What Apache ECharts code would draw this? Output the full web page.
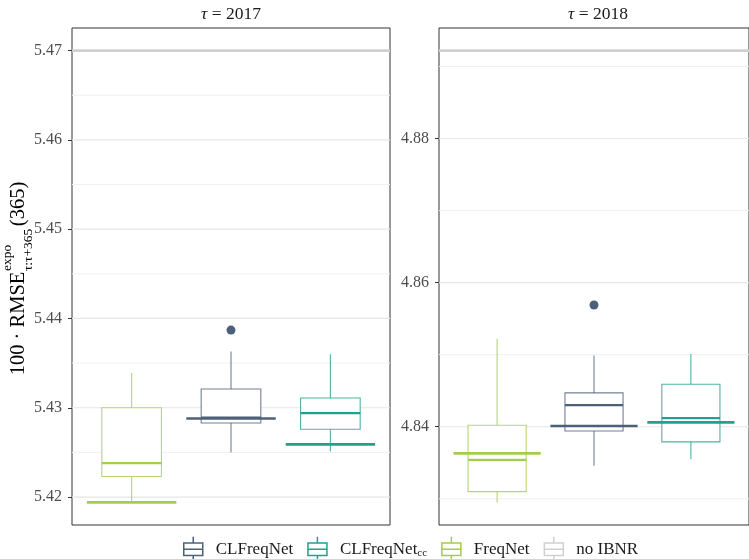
<!DOCTYPE html>
<html>
<head>
<meta charset="utf-8">
<script src="https://cdn.jsdelivr.net/npm/echarts@6/dist/echarts.min.js"></script>
<style>
  html, body { margin: 0; padding: 0; background: #ffffff; }
  #chart { width: 749px; height: 559px; }
</style>
</head>
<body>
<div id="chart"></div>
<script>
// Forecast-horizon panels
const panelYears = ['2017', '2018'];

// Models along the x axis (positions 1, 2, 3)
const models = ['FreqNet', 'CLFreqNet', 'CLFreqNet_cc'];

// Box statistics per panel: [lower whisker, Q1, median, Q3, upper whisker]
const freqNetBox     = [[5.4194, 5.4223, 5.4238, 5.4300, 5.4339], [4.8295, 4.8310, 4.8354, 4.8402, 4.8522]];
const clFreqNetBox   = [[5.4250, 5.4283, 5.4289, 5.4321, 5.4363], [4.8346, 4.8394, 4.8430, 4.8447, 4.8499]];
const clFreqNetCcBox = [[5.4251, 5.4276, 5.4294, 5.4311, 5.4360], [4.8355, 4.8379, 4.8412, 4.8459, 4.8501]];

// Outlying runs per panel
const freqNetOutliers     = [[], []];
const clFreqNetOutliers   = [[5.4387], [4.8569]];
const clFreqNetCcOutliers = [[], []];

// Ensemble (nagging) value per panel
const freqNetEnsemble     = [5.4194, 4.8363];
const clFreqNetEnsemble   = [5.4288, 4.8401];
const clFreqNetCcEnsemble = [5.4259, 4.8406];

// Reference without IBNR correction per panel
const noIbnr = [5.4700, 4.8922];

// Axis ticks per panel
const majorTicks = [[5.42, 5.43, 5.44, 5.45, 5.46, 5.47], [4.84, 4.86, 4.88]];
const minorTicks = [[5.425, 5.435, 5.445, 5.455, 5.465], [4.83, 4.85, 4.87, 4.89]];

const COLORS = {
  'CLFreqNet': '#4d6079',
  'CLFreqNet_cc': '#21a18d',
  'FreqNet': '#a3cd4a',
  'no IBNR': '#d0d0d0'
};
const FONT = '"Liberation Serif", "DejaVu Serif", serif';

const modelSets = [
  { name: 'FreqNet', box: freqNetBox, out: freqNetOutliers, ens: freqNetEnsemble },
  { name: 'CLFreqNet', box: clFreqNetBox, out: clFreqNetOutliers, ens: clFreqNetEnsemble },
  { name: 'CLFreqNet_cc', box: clFreqNetCcBox, out: clFreqNetCcOutliers, ens: clFreqNetCcEnsemble }
];

// y range per panel: data extent expanded by 5% on each side
function panelRange(p) {
  const vals = [noIbnr[p]];
  modelSets.forEach(m => {
    vals.push(m.box[p][0], m.box[p][4], m.ens[p]);
    m.out[p].forEach(v => vals.push(v));
  });
  const lo = Math.min.apply(null, vals), hi = Math.max.apply(null, vals);
  const pad = (hi - lo) * 0.05;
  return [lo - pad, hi + pad];
}

const GRID_W = 318, GRID_H = 497, GRID_TOP = 28;
const gridLefts = [72, 439];

const grids = [], xAxes = [], yAxes = [], series = [];

function hLineAcross(style) {
  return function (params, api) {
    const cs = params.coordSys;
    const y = api.coord([1, api.value(1)])[1];
    return { type: 'line', shape: { x1: cs.x, y1: y, x2: cs.x + cs.width, y2: y }, style: style };
  };
}

function renderBox(params, api) {
  const x = api.value(0);
  const lo = api.coord([x, api.value(1)]);
  const q1 = api.coord([x, api.value(2)]);
  const md = api.coord([x, api.value(3)]);
  const q3 = api.coord([x, api.value(4)]);
  const hi = api.coord([x, api.value(5)]);
  const half = api.size([1, 0])[0] * 0.3;
  const cx = lo[0];
  const c = api.visual('color');
  const thin = { stroke: c, lineWidth: 1.1, opacity: 0.8 };
  return {
    type: 'group',
    children: [
      { type: 'line', shape: { x1: cx, y1: hi[1], x2: cx, y2: q3[1] }, style: thin },
      { type: 'line', shape: { x1: cx, y1: q1[1], x2: cx, y2: lo[1] }, style: thin },
      { type: 'rect', shape: { x: cx - half, y: q3[1], width: half * 2, height: q1[1] - q3[1] },
        style: { fill: '#ffffff', stroke: c, lineWidth: 1.1, strokeOpacity: 0.8 } },
      { type: 'line', shape: { x1: cx - half, y1: md[1], x2: cx + half, y2: md[1] },
        style: { stroke: c, lineWidth: 2.2 } }
    ]
  };
}

function renderEnsemble(params, api) {
  const p = api.coord([api.value(0), api.value(1)]);
  const half = api.size([1, 0])[0] * 0.45;
  return {
    type: 'line',
    shape: { x1: p[0] - half, y1: p[1], x2: p[0] + half, y2: p[1] },
    style: { stroke: api.visual('color'), lineWidth: 2.6 }
  };
}

panelYears.forEach((yr, p) => {
  const range = panelRange(p);
  grids.push({
    left: gridLefts[p], top: GRID_TOP, width: GRID_W, height: GRID_H,
    show: true, borderColor: '#333333', borderWidth: 1, backgroundColor: 'transparent'
  });
  xAxes.push({
    type: 'value', gridIndex: p, min: 0.4, max: 3.6,
    axisLine: { show: false }, axisTick: { show: false }, axisLabel: { show: false },
    splitLine: { show: false }
  });
  yAxes.push({
    type: 'value', gridIndex: p, min: range[0], max: range[1],
    axisLine: { show: false },
    axisTick: { show: true, length: 4, customValues: majorTicks[p], lineStyle: { color: '#333333', width: 1 } },
    axisLabel: {
      show: true, customValues: majorTicks[p], margin: 10,
      formatter: v => v.toFixed(2),
      color: '#4d4d4d', fontFamily: FONT, fontSize: 16
    },
    splitLine: { show: false }, minorTick: { show: false }, minorSplitLine: { show: false }
  });

  // panel grid lines
  series.push({
    type: 'custom', name: 'major-grid-' + yr, xAxisIndex: p, yAxisIndex: p, z: 0, silent: true,
    renderItem: hLineAcross({ stroke: '#e6e6e6', lineWidth: 1.2 }),
    data: majorTicks[p].map(v => [1, v])
  });
  series.push({
    type: 'custom', name: 'minor-grid-' + yr, xAxisIndex: p, yAxisIndex: p, z: 0, silent: true,
    renderItem: hLineAcross({ stroke: '#f0f0f0', lineWidth: 1 }),
    data: minorTicks[p].map(v => [1, v])
  });

  // no IBNR reference line
  series.push({
    type: 'custom', name: 'no IBNR', xAxisIndex: p, yAxisIndex: p, z: 1, silent: true,
    itemStyle: { color: COLORS['no IBNR'] },
    renderItem: hLineAcross({ stroke: COLORS['no IBNR'], lineWidth: 2.6 }),
    data: [[1, noIbnr[p]]]
  });

  modelSets.forEach(m => {
    const xPos = models.indexOf(m.name) + 1;
    const c = COLORS[m.name];
    series.push({
      type: 'custom', name: m.name, xAxisIndex: p, yAxisIndex: p, z: 2,
      itemStyle: { color: c },
      renderItem: renderBox,
      data: [[xPos].concat(m.box[p])]
    });
    series.push({
      type: 'custom', name: m.name, xAxisIndex: p, yAxisIndex: p, z: 3,
      itemStyle: { color: c },
      renderItem: renderEnsemble,
      data: [[xPos, m.ens[p]]]
    });
    if (m.out[p].length) {
      series.push({
        type: 'scatter', name: m.name, xAxisIndex: p, yAxisIndex: p, z: 4,
        symbolSize: 9, itemStyle: { color: c, opacity: 1 },
        data: m.out[p].map(v => [xPos, v])
      });
    }
  });
});

// y-axis title pieces, laid out along the rotated baseline
const mctx = document.createElement('canvas').getContext('2d');
function textWidth(s, size) { mctx.font = size + 'px ' + FONT; return mctx.measureText(s).width; }
const T_MAIN = 20.5, T_SMALL = 13.5;
const tMain = '100 \u00b7 RMSE', tSup = 'expo', tSub = '\u03c4:\u03c4+365', tEnd = '(365)';
const wMain = textWidth(tMain, T_MAIN);
const wScript = Math.max(textWidth(tSup, T_SMALL), textWidth(tSub, T_SMALL));
const wEnd = textWidth(tEnd, T_MAIN);
const titleLen = wMain + wScript + 3 + wEnd;
const x0 = -titleLen / 2;
function piece(txt, x, y, size) {
  return { type: 'text', x: 0, y: 0,
    style: { text: txt, x: x, y: y, font: size + 'px ' + FONT, fill: '#000000', align: 'left', verticalAlign: 'middle' } };
}

const graphics = [
  {
    type: 'group', x: 18.5, y: GRID_TOP + GRID_H / 2 + 2, rotation: Math.PI / 2,
    children: [
      piece(tMain, x0, 0, T_MAIN),
      piece(tSup, x0 + wMain + 0.5, -11, T_SMALL),
      piece(tSub, x0 + wMain + 0.5, 9.5, T_SMALL),
      piece(tEnd, x0 + wMain + wScript + 3, 0, T_MAIN)
    ]
  }
];
panelYears.forEach((yr, p) => {
  graphics.push({
    type: 'text', x: gridLefts[p] + GRID_W / 2, y: 14,
    style: {
      text: '{i|\u03c4} = ' + yr,
      rich: { i: { fontStyle: 'italic', fontFamily: FONT, fontSize: 17.5, fill: '#1a1a1a' } },
      font: '17.5px ' + FONT, fill: '#1a1a1a', align: 'center', verticalAlign: 'middle'
    }
  });
});

const legendOrder = ['CLFreqNet', 'CLFreqNet_cc', 'FreqNet', 'no IBNR'];
const boxIcon = 'path://M9,0 L9,5 M0,5 L18,5 L18,15 L0,15 Z M0,10 L18,10 M9,15 L9,20';

const chart = echarts.init(document.getElementById('chart'), null, { renderer: 'canvas' });
chart.setOption({
  animation: false,
  backgroundColor: '#ffffff',
  grid: grids,
  xAxis: xAxes,
  yAxis: yAxes,
  legend: {
    left: 178, top: 531,
    itemWidth: 19, itemHeight: 25, itemGap: 14,
    selectedMode: false,
    textStyle: {
      fontFamily: FONT, fontSize: 17, color: '#1a1a1a', padding: [0, 0, 0, 8],
      rich: { s: { fontFamily: FONT, fontSize: 11, color: '#1a1a1a', verticalAlign: 'bottom', padding: [8, 0, 0, 0] } }
    },
    formatter: name => name === 'CLFreqNet_cc' ? 'CLFreqNet{s|cc}' : name,
    data: legendOrder.map(n => ({
      name: n, icon: boxIcon, symbolKeepAspect: false,
      itemStyle: { color: 'rgba(0,0,0,0)', borderColor: COLORS[n], borderWidth: 1.5 }
    }))
  },
  graphic: graphics,
  series: series
});
</script>
</body>
</html>
